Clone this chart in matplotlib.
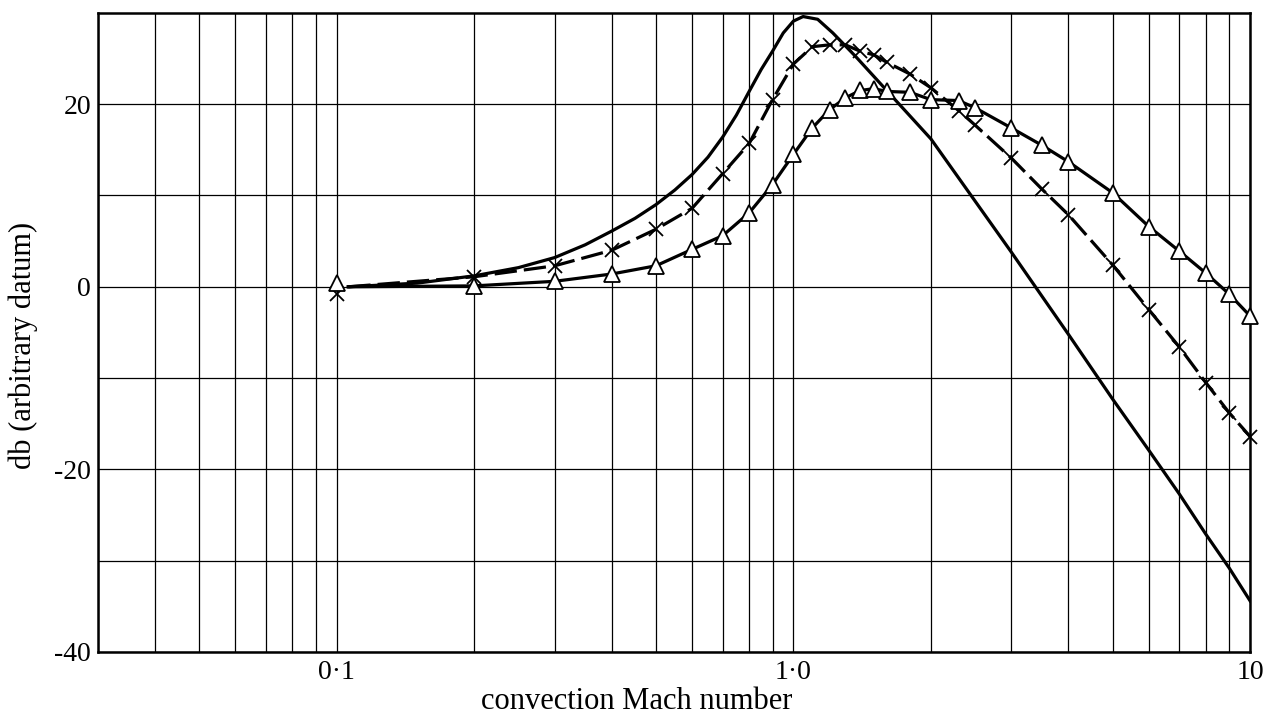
#importing package
import numpy as np
import matplotlib
matplotlib.use("Agg")
import matplotlib.pyplot as plt
from matplotlib.ticker import FixedLocator, LogLocator, NullFormatter

plt.rcParams['font.family'] = ['Liberation Serif', 'DejaVu Serif']

#solid curve (no markers)
solid_mach = [0.106, 0.15, 0.2, 0.25, 0.3, 0.35, 0.4, 0.45, 0.5, 0.55, 0.6, 0.65, 0.7,
              0.75, 0.8, 0.85, 0.9, 0.95, 1.0, 1.05, 1.13, 1.22, 1.37, 2.0, 3.0, 4.0,
              5.0, 6.0, 7.0, 8.0, 9.0, 10.0]
solid_db = [0.0, 0.4, 1.2, 2.1, 3.2, 4.6, 6.1, 7.5, 9.0, 10.6, 12.3, 14.2, 16.4,
            18.8, 21.4, 23.8, 25.8, 27.8, 29.1, 29.6, 29.3, 27.8, 25.2, 16.2, 3.8, -5.2,
            -12.3, -17.9, -22.7, -27.1, -30.8, -34.4]

#crosses, dashed curve
cross_mach = [0.1, 0.2, 0.3, 0.4, 0.5, 0.6, 0.7, 0.8, 0.9, 1.0, 1.1, 1.2, 1.3, 1.4, 1.5,
              1.6, 1.8, 2.0, 2.3, 2.5, 3.0, 3.5, 4.0, 5.0, 6.0, 7.0, 8.0, 9.0, 10.0]
cross_db = [-0.8, 1.1, 2.3, 4.0, 6.3, 8.6, 12.4, 15.7, 20.5, 24.4, 26.3, 26.5, 26.5, 25.8, 25.4,
            24.6, 23.3, 21.8, 19.3, 17.7, 14.1, 10.7, 7.9, 2.4, -2.5, -6.6, -10.5, -13.8, -16.4]

#triangles, solid curve
tri_mach = [0.1, 0.2, 0.3, 0.4, 0.5, 0.6, 0.7, 0.8, 0.9, 1.0, 1.1, 1.2, 1.3, 1.4, 1.5,
            1.6, 1.8, 2.0, 2.3, 2.5, 3.0, 3.5, 4.0, 5.0, 6.0, 7.0, 8.0, 9.0, 10.0]
tri_db = [0.4, 0.1, 0.6, 1.4, 2.3, 4.1, 5.6, 8.1, 11.2, 14.5, 17.4, 19.4, 20.7, 21.5, 21.7,
          21.4, 21.3, 20.5, 20.4, 19.6, 17.4, 15.5, 13.7, 10.3, 6.6, 3.9, 1.5, -0.8, -3.2]

#curves leave the 0.1 points at this mach number
line_start = 0.106

fig = plt.figure(figsize=(12.64, 7.16), dpi=100)
ax = fig.add_axes([0.0775, 0.0894, 0.9115, 0.8926])

ax.plot(solid_mach, solid_db, color='black', linewidth=2.3)

ax.plot([line_start] + cross_mach[1:], [0.0] + cross_db[1:], color='black',
        linewidth=2.3, dashes=(7, 2.2))
ax.plot(cross_mach, cross_db, linestyle='none', marker='x', markersize=10,
        markeredgewidth=1.3, color='black', clip_on=False, zorder=4)

ax.plot([line_start] + tri_mach[1:], [0.0] + tri_db[1:], color='black', linewidth=2.3)
ax.plot(tri_mach, tri_db, linestyle='none', marker='^', markersize=12,
        markerfacecolor='white', markeredgecolor='black', markeredgewidth=1.3,
        clip_on=False, zorder=4)

ax.set_xscale('log')
ax.set_xlim(0.03, 10)
ax.set_ylim(-40, 30)

ax.xaxis.set_major_locator(FixedLocator([0.1, 1.0, 10.0]))
ax.set_xticklabels(['0·1', '1·0', '10'])
ax.xaxis.set_minor_locator(LogLocator(base=10, subs=np.arange(2, 10), numticks=20))
ax.xaxis.set_minor_formatter(NullFormatter())

ax.set_yticks([-40, -20, 0, 20])
ax.set_yticklabels(['-40', '-20', '0', '20'])
ax.yaxis.set_minor_locator(FixedLocator([-30, -10, 10]))

ax.grid(True, which='both', color='black', linewidth=0.9)
ax.set_axisbelow(True)
ax.tick_params(which='both', length=0, labelsize=20)
ax.tick_params(axis='x', pad=6)
ax.tick_params(axis='y', pad=5)
for s in ax.spines.values():
    s.set_linewidth(1.8)

ax.set_xlabel('convection Mach number', fontsize=22)
ax.set_ylabel('db (arbitrary datum)', fontsize=22)
ax.xaxis.set_label_coords(0.468, -0.055)
ax.yaxis.set_label_coords(-0.052, 0.48)

fig.savefig('out.png', dpi=100)
